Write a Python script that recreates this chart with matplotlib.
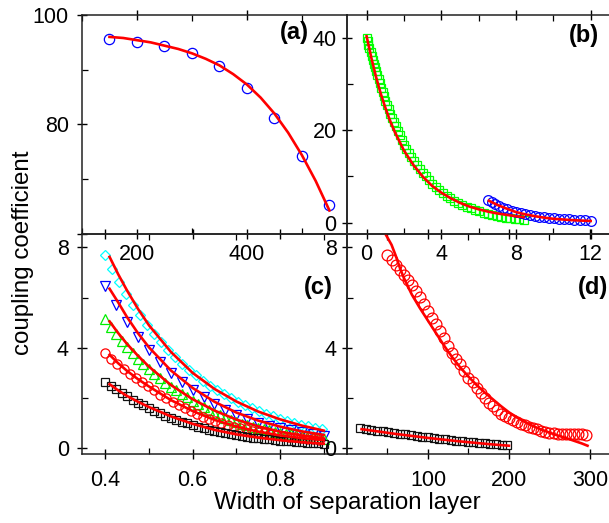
import matplotlib
matplotlib.use('Agg')
import matplotlib.pyplot as plt
from matplotlib.ticker import FixedLocator

plt.rcParams['font.family'] = ['Liberation Sans', 'DejaVu Sans']

# ---------------- data ----------------
# panel (a)
a_x = [150, 200, 250, 300, 350, 400, 450, 500, 550]
a_y = [95.6, 95.0, 94.4, 93.0, 90.6, 86.7, 81.2, 74.2, 65.3]
a_fit_x = [150, 175, 200, 225, 250, 275, 300, 325, 350, 375, 400, 425, 450, 475, 500, 525, 550]
a_fit_y = [96.0, 95.8, 95.4, 95.0, 94.4, 93.8, 93.0, 92.0, 90.8, 89.2, 87.3, 84.9, 82.0, 78.5, 74.4, 69.7, 64.3]

# panel (b)
b_sq_x = [0, 0.05, 0.10, 0.155, 0.21, 0.27, 0.33, 0.39, 0.45, 0.51, 0.575, 0.64, 0.71, 0.78, 0.855, 0.93,
          1.01, 1.095, 1.18, 1.27, 1.365, 1.46, 1.56, 1.665, 1.775, 1.89, 2.01, 2.135, 2.265, 2.40, 2.54,
          2.69, 2.845, 3.005, 3.17, 3.34, 3.52, 3.70, 3.89, 4.085, 4.285, 4.49, 4.70, 4.915, 5.135, 5.36,
          5.585, 5.81, 6.04, 6.27, 6.505, 6.74, 6.98, 7.22, 7.46, 7.70, 7.94, 8.18, 8.42]
b_sq_y = [40.0, 39.3, 38.5, 37.7, 36.9, 36.0, 35.2, 34.4, 33.7, 32.9, 32.0, 31.1, 30.1, 29.2, 28.3, 27.4,
          26.4, 25.5, 24.5, 23.6, 22.7, 21.7, 20.8, 19.8, 18.9, 17.9, 16.9, 16.0, 15.1, 14.2, 13.4,
          12.5, 11.6, 10.8, 10.0, 9.2, 8.4, 7.8, 7.1, 6.4, 5.85, 5.3, 4.8, 4.3, 3.9, 3.45,
          3.1, 2.75, 2.45, 2.2, 1.9, 1.65, 1.45, 1.27, 1.12, 0.98, 0.84, 0.73, 0.62]
b_sq_fit_x = [0, 0.25, 0.5, 0.75, 1.0, 1.25, 1.5, 2.0, 2.5, 3.0, 3.5, 4.0, 4.5, 5.0, 5.5, 6.0, 6.5, 7.0, 7.5, 8.0, 8.4]
b_sq_fit_y = [40.3, 35.7, 31.6, 28.0, 24.9, 22.1, 19.7, 15.6, 12.5, 10.0, 8.0, 6.5, 5.3, 4.3, 3.5, 2.9, 2.4, 2.0, 1.7, 1.4, 1.2]
b_ci_x = [6.51, 6.70, 6.87, 7.10, 7.32, 7.53, 7.77, 8.00, 8.25, 8.48, 8.75, 9.01, 9.25, 9.50, 9.76, 10.03,
          10.32, 10.58, 10.85, 11.12, 11.42, 11.69, 12.0]
b_ci_y = [4.91, 4.54, 4.04, 3.61, 3.24, 2.90, 2.53, 2.24, 2.03, 1.82, 1.60, 1.45, 1.30, 1.17, 1.02, 0.95,
          0.86, 0.80, 0.73, 0.65, 0.58, 0.52, 0.43]
b_ci_fit_x = [6.55, 7.0, 7.5, 8.0, 8.5, 9.0, 9.5, 10.0, 10.5, 11.0, 11.5, 12.0]
b_ci_fit_y = [4.75, 3.85, 3.05, 2.3, 1.8, 1.42, 1.1, 0.85, 0.7, 0.56, 0.46, 0.38]

# panel (c)
c_cy_x = [0.400, 0.416, 0.432, 0.448, 0.464, 0.480, 0.496, 0.512, 0.528, 0.544, 0.560, 0.576, 0.592, 0.608, 0.624, 0.640,
          0.656, 0.672, 0.688, 0.704, 0.720, 0.736, 0.752, 0.768, 0.784, 0.800, 0.816, 0.832, 0.848, 0.864, 0.880, 0.896]
c_cy_y = [7.70, 7.14, 6.63, 6.15, 5.70, 5.29, 4.91, 4.55, 4.22, 3.92, 3.63, 3.37, 3.13, 2.90, 2.69, 2.49,
          2.31, 2.15, 1.99, 1.85, 1.71, 1.59, 1.47, 1.37, 1.27, 1.18, 1.09, 1.01, 0.94, 0.87, 0.81, 0.75]
c_bl_x = [0.400, 0.425, 0.450, 0.475, 0.500, 0.525, 0.550, 0.575, 0.600, 0.625, 0.650, 0.675, 0.700, 0.725, 0.750,
          0.775, 0.800, 0.825, 0.850, 0.875, 0.900]
c_bl_y = [6.45, 5.70, 5.03, 4.43, 3.90, 3.43, 3.01, 2.64, 2.31, 2.02, 1.76, 1.52, 1.32, 1.16, 1.02,
          0.90, 0.80, 0.71, 0.63, 0.56, 0.50]
c_gr_x = [0.4000, 0.4125, 0.4250, 0.4375, 0.4500, 0.4625, 0.4750, 0.4875, 0.5000, 0.5125, 0.5250, 0.5375, 0.5500, 0.5625,
          0.5750, 0.5875, 0.6000, 0.6125, 0.6250, 0.6375, 0.6500, 0.6625, 0.6750, 0.6875, 0.7000, 0.7125, 0.7250, 0.7375,
          0.7500, 0.7625, 0.7750, 0.7875, 0.8000, 0.8125, 0.8250, 0.8375, 0.8500, 0.8625, 0.8750, 0.8875, 0.9000]
c_gr_y = [5.15, 4.84, 4.55, 4.28, 4.03, 3.79, 3.56, 3.35, 3.15, 2.96, 2.78, 2.61, 2.45, 2.30,
          2.16, 2.02, 1.90, 1.76, 1.64, 1.52, 1.41, 1.31, 1.22, 1.13, 1.05, 0.98, 0.92, 0.86,
          0.81, 0.75, 0.71, 0.66, 0.62, 0.58, 0.55, 0.52, 0.49, 0.46, 0.43, 0.40, 0.38]
c_rd_x = [0.400, 0.414, 0.428, 0.442, 0.456, 0.470, 0.484, 0.498, 0.512, 0.526, 0.540, 0.554, 0.568, 0.582, 0.596,
          0.610, 0.624, 0.638, 0.652, 0.666, 0.680, 0.694, 0.708, 0.722, 0.736, 0.750, 0.764, 0.778, 0.792, 0.806,
          0.820, 0.834, 0.848, 0.862, 0.876, 0.890]
c_rd_y = [3.80, 3.57, 3.36, 3.16, 2.97, 2.80, 2.63, 2.47, 2.30, 2.13, 1.98, 1.84, 1.71, 1.59, 1.48,
          1.37, 1.26, 1.17, 1.08, 0.99, 0.92, 0.85, 0.80, 0.75, 0.70, 0.65, 0.61, 0.57, 0.53, 0.49,
          0.46, 0.43, 0.40, 0.38, 0.35, 0.33]
c_bk_x = c_gr_x
c_bk_y = [2.65, 2.49, 2.34, 2.19, 2.06, 1.93, 1.82, 1.71, 1.60, 1.49, 1.39, 1.30, 1.21, 1.13,
          1.06, 0.99, 0.92, 0.86, 0.80, 0.74, 0.69, 0.64, 0.60, 0.56, 0.52, 0.49, 0.45, 0.42,
          0.40, 0.37, 0.35, 0.32, 0.30, 0.28, 0.27, 0.25, 0.23, 0.22, 0.20, 0.19, 0.17]
c_fit_x = [0.41, 0.43, 0.45, 0.475, 0.5, 0.55, 0.6, 0.65, 0.7, 0.75, 0.8, 0.85, 0.9]
c_fit_cy = [7.62, 6.92, 6.28, 5.55, 4.90, 3.84, 3.00, 2.36, 1.86, 1.46, 1.15, 0.90, 0.70]
c_fit_bl = [6.35, 5.80, 5.22, 4.58, 4.02, 3.10, 2.40, 1.85, 1.42, 1.10, 0.86, 0.67, 0.53]
c_fit_gr = [5.05, 4.58, 4.15, 3.68, 3.25, 2.52, 1.95, 1.50, 1.14, 0.87, 0.66, 0.50, 0.39]
c_fit_rd = [3.72, 3.38, 3.08, 2.75, 2.46, 1.92, 1.48, 1.13, 0.86, 0.66, 0.51, 0.40, 0.32]
c_fit_bk = [2.55, 2.30, 2.08, 1.85, 1.64, 1.27, 0.97, 0.73, 0.55, 0.42, 0.32, 0.24, 0.18]

# panel (d)
d_ci_x = [50, 55, 60, 65, 70, 75, 80, 85, 90, 95, 100, 105, 110, 115, 120, 125, 130, 135, 140, 145,
          150, 155, 160, 165, 170, 175, 180, 185, 190, 195, 200, 205, 210, 215, 220, 225, 230, 235, 240, 245,
          250, 255, 260, 265, 270, 275, 280, 285, 290, 295]
d_ci_y = [7.68, 7.50, 7.30, 7.09, 6.90, 6.70, 6.50, 6.25, 6.01, 5.75, 5.48, 5.18, 4.95, 4.68, 4.38, 4.08, 3.78, 3.56, 3.34, 3.07,
          2.80, 2.62, 2.41, 2.21, 2.01, 1.82, 1.68, 1.53, 1.38, 1.29, 1.20, 1.11, 1.04, 0.97, 0.91, 0.85, 0.80, 0.75, 0.70, 0.66,
          0.62, 0.60, 0.58, 0.57, 0.57, 0.56, 0.56, 0.55, 0.55, 0.53]
d_ci_fit_x = [48, 55, 60, 66, 70, 80, 90, 100, 110, 120, 130, 140, 150, 160, 170, 180, 190, 200, 210, 220,
              230, 240, 250, 260, 270, 280, 290, 297]
d_ci_fit_y = [8.50, 8.10, 7.68, 7.12, 6.80, 6.12, 5.58, 5.08, 4.58, 4.08, 3.62, 3.21, 2.85, 2.52, 2.22, 1.95, 1.68, 1.43, 1.22, 1.04,
              0.88, 0.74, 0.62, 0.51, 0.41, 0.30, 0.19, 0.10]
d_sq_x = [16, 23, 30, 37, 44, 51, 58, 65, 72, 79, 86, 93, 100, 107, 114, 121, 128, 135, 142, 149, 156, 163, 170, 177,
          184, 191, 198]
d_sq_y = [0.80, 0.77, 0.74, 0.70, 0.67, 0.64, 0.61, 0.58, 0.55, 0.52, 0.49, 0.46, 0.43, 0.40, 0.38, 0.35, 0.33, 0.30,
          0.28, 0.26, 0.24, 0.21, 0.19, 0.17, 0.15, 0.13, 0.11]
d_sq_fit_x = [18, 40, 60, 80, 100, 120, 140, 160, 180, 200]
d_sq_fit_y = [0.76, 0.66, 0.57, 0.49, 0.41, 0.34, 0.27, 0.21, 0.15, 0.10]

# ---------------- figure ----------------
W, H = 609, 523
fig = plt.figure(figsize=(W / 100, H / 100), dpi=100)
L, M, R = 82 / W, 347 / W, 611 / W
T, MI, B = 1 - 15 / H, 1 - 234 / H, 1 - 454 / H
ax_a = fig.add_axes([L, MI, M - L, T - MI])
ax_b = fig.add_axes([M, MI, R - M, T - MI])
ax_c = fig.add_axes([L, B, M - L, MI - B])
ax_d = fig.add_axes([M, B, R - M, MI - B])

TICK_FS = 15.5
RED = '#ff0000'
FIT_LW = 1.9


def style(ax, xmaj, xmin, ymaj, ymin, xlabels=None, ylabels=None):
    ax.patch.set_alpha(0)
    for s in ax.spines.values():
        s.set_linewidth(1.1)
        s.set_color('#222222')
    ax.xaxis.set_major_locator(FixedLocator(xmaj))
    ax.xaxis.set_minor_locator(FixedLocator(xmin))
    ax.yaxis.set_major_locator(FixedLocator(ymaj))
    ax.yaxis.set_minor_locator(FixedLocator(ymin))
    if xlabels is not None:
        ax.set_xticklabels(xlabels)
    if ylabels is not None:
        ax.set_yticklabels(ylabels)
    ax.tick_params(which='major', direction='inout', length=7, width=1.0, labelsize=TICK_FS,
                   top=True, bottom=True, left=True, right=False, pad=4)
    ax.tick_params(which='minor', direction='in', length=4, width=0.9,
                   top=True, bottom=True, left=True, right=False)


# (a)
ax_a.plot(a_x, a_y, ls='none', marker='o', ms=7.4, mfc='none', mec='#0000ff', mew=0.9)
ax_a.plot(a_fit_x, a_fit_y, color=RED, lw=FIT_LW)
ax_a.set_xlim(100, 582)
ax_a.set_ylim(60, 100)
style(ax_a, [200, 400], [100, 300, 500], [60, 80, 100], [70, 90], ylabels=['', '80', '100'])
ax_a.tick_params(axis='y', pad=6)
ax_a.text(0.855, 0.92, '(a)', transform=ax_a.transAxes, fontsize=17, fontweight='bold', ha='right', va='center')

# (b)
ax_b.plot(b_sq_x, b_sq_y, ls='none', marker='s', ms=6.0, mfc='none', mec='#00ff00', mew=0.9)
ax_b.plot(b_ci_x, b_ci_y, ls='none', marker='o', ms=7.0, mfc='none', mec='#0000ff', mew=0.9)
ax_b.plot(b_sq_fit_x, b_sq_fit_y, color=RED, lw=FIT_LW)
ax_b.plot(b_ci_fit_x, b_ci_fit_y, color=RED, lw=FIT_LW)
ax_b.set_xlim(-1.05, 13.09)
ax_b.set_ylim(-2.44, 44.9)
style(ax_b, [0, 4, 8, 12], [2, 6, 10], [0, 20, 40], [10, 30])
ax_b.text(0.955, 0.905, '(b)', transform=ax_b.transAxes, fontsize=17, fontweight='bold', ha='right', va='center')

# (c)
ax_c.plot(c_cy_x, c_cy_y, ls='none', marker='D', ms=5.2, mfc='none', mec='#00ffff', mew=0.9)
ax_c.plot(c_bl_x, c_bl_y, ls='none', marker='v', ms=7.4, mfc='none', mec='#0000ff', mew=0.9)
ax_c.plot(c_gr_x, c_gr_y, ls='none', marker='^', ms=7.0, mfc='none', mec='#00ee00', mew=0.9)
ax_c.plot(c_rd_x, c_rd_y, ls='none', marker='o', ms=6.6, mfc='none', mec=RED, mew=0.9)
ax_c.plot(c_bk_x, c_bk_y, ls='none', marker='s', ms=5.2, mfc='none', mec='#111111', mew=0.9)
for fy in (c_fit_cy, c_fit_bl, c_fit_gr, c_fit_rd, c_fit_bk):
    ax_c.plot(c_fit_x, fy, color=RED, lw=FIT_LW)
ax_c.set_xlim(0.347, 0.953)
ax_c.set_ylim(-0.23, 8.53)
style(ax_c, [0.4, 0.6, 0.8], [0.5, 0.7, 0.9], [0, 4, 8], [2, 6], xlabels=['0.4', '0.6', '0.8'])
ax_c.tick_params(axis='x', pad=8)
ax_c.tick_params(axis='y', pad=6)
ax_c.text(0.945, 0.755, '(c)', transform=ax_c.transAxes, fontsize=17, fontweight='bold', ha='right', va='center')

# (d)
ax_d.plot(d_sq_x, d_sq_y, ls='none', marker='s', ms=6.0, mfc='none', mec='#111111', mew=0.9)
ax_d.plot(d_ci_x, d_ci_y, ls='none', marker='o', ms=7.8, mfc='none', mec=RED, mew=0.9)
ax_d.plot(d_sq_fit_x, d_sq_fit_y, color=RED, lw=FIT_LW)
ax_d.plot(d_ci_fit_x, d_ci_fit_y, color=RED, lw=FIT_LW)
ax_d.set_xlim(0, 326)
ax_d.set_ylim(-0.23, 8.53)
style(ax_d, [100, 200, 300], [50, 150, 250], [0, 4, 8], [2, 6])
ax_d.tick_params(axis='x', pad=8)
ax_d.text(0.99, 0.755, '(d)', transform=ax_d.transAxes, fontsize=17, fontweight='bold', ha='right', va='center')

fig.text(347.5 / W, 1 - 503 / H, 'Width of separation layer', fontsize=17.4, ha='center', va='center')
fig.text(23 / W, 1 - 253 / H, 'coupling coefficient', fontsize=17.4, rotation=90, ha='center', va='center')

fig.savefig('out.png', dpi=100)
